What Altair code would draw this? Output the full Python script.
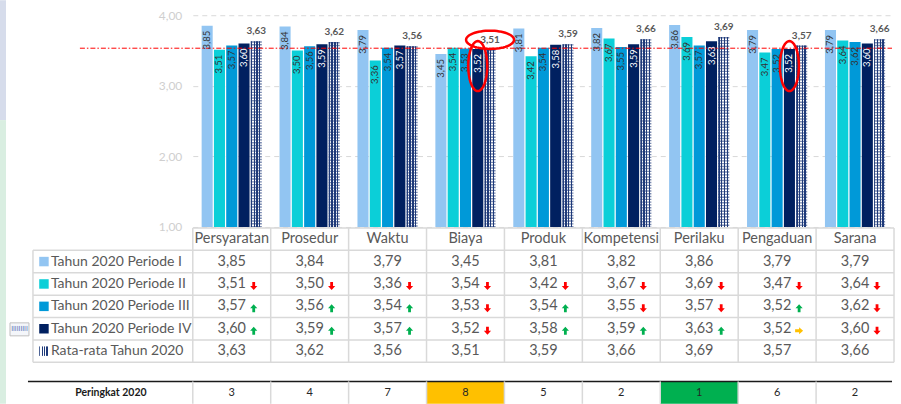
import math
import altair as alt
import pandas as pd

# ---------------- data ----------------
categories = ["Persyaratan", "Prosedur", "Waktu", "Biaya", "Produk",
              "Kompetensi", "Perilaku", "Pengaduan", "Sarana"]
series_names = ["Tahun 2020 Periode I", "Tahun 2020 Periode II",
                "Tahun 2020 Periode III", "Tahun 2020 Periode IV",
                "Rata-rata Tahun 2020"]
periode_1 = [3.85, 3.84, 3.79, 3.45, 3.81, 3.82, 3.86, 3.79, 3.79]
periode_2 = [3.51, 3.50, 3.36, 3.54, 3.42, 3.67, 3.69, 3.47, 3.64]
periode_3 = [3.57, 3.56, 3.54, 3.53, 3.54, 3.55, 3.57, 3.52, 3.62]
periode_4 = [3.60, 3.59, 3.57, 3.52, 3.58, 3.59, 3.63, 3.52, 3.60]
rata_rata = [3.63, 3.62, 3.56, 3.51, 3.59, 3.66, 3.69, 3.57, 3.66]
# trend arrows shown next to the table values
arah_periode_2 = ["down", "down", "down", "down", "down", "down", "down", "down", "down"]
arah_periode_3 = ["up", "up", "up", "down", "up", "down", "down", "up", "down"]
arah_periode_4 = ["up", "up", "up", "down", "up", "up", "up", "same", "down"]
peringkat = [3, 4, 7, 8, 5, 2, 1, 6, 2]
threshold = [3.5324]
y_ticks = [1, 2, 3, 4]
peringkat_label = "Peringkat 2020"
# highlighted items (red ellipses)
ellipse_h_cat, ellipse_h_series = ["Biaya"], ["Rata-rata Tahun 2020"]
ellipse_v_cat = ["Biaya", "Pengaduan"]
ellipse_v_series = ["Tahun 2020 Periode IV", "Tahun 2020 Periode IV"]

# ---------------- styles ----------------
FONT = "Lato"
series_colors = ["#92C5F2", "#0BCFD8", "#0099D8", "#002060"]
label_colors = ["#333333", "#333333", "#333333", "#FFFFFF"]
NAVY = "#1F3B7A"
GRID = "#D9D9D9"


def fmt(v):
    return f"{v:.2f}".replace(".", ",")


all_series = [periode_1, periode_2, periode_3, periode_4, rata_rata]
rows = []
for si, (name, vals) in enumerate(zip(series_names, all_series)):
    for ci, cat in enumerate(categories):
        rows.append(dict(cat=cat, series=name, value=vals[ci], base=1.0,
                         y=si + 1.5, label=fmt(vals[ci]), sidx=si))
df = pd.DataFrame(rows)
df_periods = df[df.sidx < 4]
df_avg = df[df.sidx == 4]

arrows = []
for si, dirs in zip([1, 2, 3], [arah_periode_2, arah_periode_3, arah_periode_4]):
    for ci, cat in enumerate(categories):
        arrows.append(dict(cat=cat, y=si + 1.5, dir=dirs[ci]))
df_arrows = pd.DataFrame(arrows)

df_rank = pd.DataFrame(dict(cat=categories, rank=peringkat,
                            y=[7.35] * 9, y0=[6.85] * 9, y1=[7.85] * 9,
                            t0=[0.0] * 9, t1=[6.0] * 9))

# ---------------- helpers ----------------
def ellipse_path(rx, ry, n=64):
    pts = [(rx * math.cos(2 * math.pi * k / n), ry * math.sin(2 * math.pi * k / n)) for k in range(n)]
    return "M " + " L ".join(f"{x:.3f} {y:.3f}" for x, y in pts) + " Z"


stripe_stops = []
n_str = 8
for k in range(n_str):
    c = NAVY if k % 2 == 0 else "#FFFFFF"
    stripe_stops.append(alt.GradientStop(offset=k / n_str, color=c))
    stripe_stops.append(alt.GradientStop(offset=(k + 1) / n_str, color=c))
pattern = alt.Gradient(gradient="linear", x1=0, x2=1, y1=0, y2=0, stops=stripe_stops)

X_SCALE = alt.Scale(domain=categories, paddingInner=0, paddingOuter=0)
XO_SCALE = alt.Scale(domain=series_names, paddingInner=0.1, paddingOuter=0.72)
X = alt.X("cat:N", sort=categories, scale=X_SCALE, axis=None)
XO = alt.XOffset("series:N", sort=series_names, scale=XO_SCALE)
Y = alt.Y("value:Q", scale=alt.Scale(domain=[1, 4], zero=False, nice=False),
          axis=alt.Axis(values=y_ticks, title=None, ticks=False, domain=False,
                        labelExpr="replace(format(datum.value,'.2f'),'.',',')",
                        labelColor="#CFCFCF", labelFontSize=12, labelFont=FONT,
                        labelPadding=11, grid=True, gridColor=GRID, gridDash=[5, 4]))
one = pd.DataFrame({"v": [0]})

# ---------------- bar chart ----------------
bars = alt.Chart(df_periods).mark_bar().encode(
    x=X, xOffset=XO, y=Y, y2="base:Q",
    color=alt.Color("series:N", scale=alt.Scale(domain=series_names[:4], range=series_colors), legend=None))
avg_bars = alt.Chart(df_avg).mark_bar(color=pattern).encode(x=X, xOffset=XO, y="value:Q", y2="base:Q")
avg_over = alt.Chart(df_avg).mark_rule(color=NAVY, opacity=0.6, strokeWidth=11, strokeDash=[1.4, 1.4],
                                       strokeCap="butt").encode(x=X, xOffset=XO, y="value:Q", y2="base:Q")
bar_labels = alt.Chart(df_periods).mark_text(angle=270, align="right", baseline="middle", dx=-5,
                                             font=FONT, fontSize=9.5).encode(
    x=X, xOffset=XO, y="value:Q", text="label:N",
    fill=alt.Fill("series:N", scale=alt.Scale(domain=series_names[:4], range=label_colors), legend=None))
avg_labels = alt.Chart(df_avg).mark_text(baseline="bottom", dy=-5, font=FONT, fontSize=10,
                                         fontWeight="bold", color="#595959").encode(
    x=X, xOffset=XO, y="value:Q", text="label:N")
ref_line = alt.Chart(pd.DataFrame({"value": threshold})).mark_rule(
    color="#FF0000", strokeWidth=1, strokeDash=[5, 2, 1.5, 2]).encode(
    y="value:Q", x=alt.value(-113), x2=alt.value(700))

df_eh = pd.DataFrame(dict(cat=ellipse_h_cat, series=ellipse_h_series,
                          value=[rata_rata[categories.index(c)] for c in ellipse_h_cat]))
df_ev = pd.DataFrame(dict(cat=ellipse_v_cat, series=ellipse_v_series,
                          value=[periode_4[categories.index(c)] for c in ellipse_v_cat]))
ell_h = alt.Chart(df_eh).mark_point(shape=ellipse_path(1, 0.38), size=2304, filled=False, color="#FF0000",
                                    strokeWidth=2.5, opacity=1, yOffset=-10).encode(x=X, xOffset=XO, y="value:Q")
ell_v = alt.Chart(df_ev).mark_point(shape=ellipse_path(0.38, 1), size=2500, filled=False, color="#FF0000",
                                    strokeWidth=2.5, opacity=1, yOffset=17).encode(x=X, xOffset=XO, y="value:Q")

strip_top = alt.Chart(one).mark_rect(color="#D6DCEB").encode(
    x=alt.value(-193), x2=alt.value(-187), y=alt.value(-15), y2=alt.value(105))
strip_mid = alt.Chart(one).mark_rect(color="#D9EEE1").encode(
    x=alt.value(-193), x2=alt.value(-187), y=alt.value(105), y2=alt.value(213))

top = alt.layer(strip_top, strip_mid, bars, avg_bars, avg_over, ref_line, bar_labels, avg_labels,
                ell_h, ell_v).properties(width=702, height=212)

# ---------------- table ----------------
TSCALE = alt.Scale(domain=[0, 7.85], reverse=True, nice=False, zero=False)
TY = alt.Y("y:Q", scale=TSCALE, axis=None)
XC = alt.X("cat:N", sort=categories, scale=X_SCALE, axis=None)
XB = alt.X("cat:N", sort=categories, scale=X_SCALE, axis=None, bandPosition=0)

hl = pd.DataFrame({"y": [1, 2, 3, 4, 5, 6]})
h_rules = alt.Chart(hl).mark_rule(color=GRID, strokeWidth=1.5).encode(
    y=TY, x=alt.value(-160), x2=alt.value(702))
h_top = alt.Chart(pd.DataFrame({"y": [0]})).mark_rule(color=GRID, strokeWidth=1.5).encode(
    y=TY, x=alt.value(0), x2=alt.value(702))
v_rules = alt.Chart(df_rank).mark_rule(color=GRID, strokeWidth=1.5).encode(
    x=XB, y=alt.Y("t0:Q", scale=TSCALE, axis=None), y2="t1:Q")
v_right = alt.Chart(pd.DataFrame({"y": [0.0], "y2": [6.0]})).mark_rule(color=GRID, strokeWidth=1.5).encode(
    x=alt.value(702), y=TY, y2="y2:Q")
v_left = alt.Chart(pd.DataFrame({"y": [1.0], "y2": [6.0]})).mark_rule(color=GRID, strokeWidth=1.5).encode(
    x=alt.value(-160), y=TY, y2="y2:Q")

rank_best = alt.Chart(df_rank).transform_filter(f"datum.rank == {min(peringkat)}").mark_rect(
    color="#00B050").encode(x=XC, y=alt.Y("y0:Q", scale=TSCALE, axis=None), y2="y1:Q")
rank_worst = alt.Chart(df_rank).transform_filter(f"datum.rank == {max(peringkat)}").mark_rect(
    color="#FFC000").encode(x=XC, y=alt.Y("y0:Q", axis=None), y2="y1:Q")
rank_line = alt.Chart(pd.DataFrame({"y": [6.85]})).mark_rule(color="#1A1A1A", strokeWidth=1.5).encode(
    y=TY, x=alt.value(-165), x2=alt.value(700))
rank_v = alt.Chart(df_rank).mark_rule(color=GRID, strokeWidth=1.5).encode(
    x=XB, y=alt.Y("y0:Q", axis=None), y2="y1:Q")

hdr = pd.DataFrame({"cat": categories, "y": [0.5] * 9})
header_text = alt.Chart(hdr).mark_text(font=FONT, fontSize=14.5, color="#595959").encode(
    x=XC, y=TY, text="cat:N")

ser = pd.DataFrame({"series": series_names, "y": [i + 1.5 for i in range(5)]})
row_labels = alt.Chart(ser).mark_text(font=FONT, fontSize=14, color="#595959", align="left").encode(
    x=alt.value(-142), y=TY, text="series:N")
swatches = alt.Chart(ser.iloc[:4]).mark_square(size=90, opacity=1).encode(
    x=alt.value(-149), y=TY,
    color=alt.Color("series:N", scale=alt.Scale(domain=series_names[:4], range=series_colors), legend=None))
swatch_avg = alt.Chart(ser.iloc[4:]).mark_square(size=90, opacity=1, color=pattern).encode(
    x=alt.value(-149), y=TY)

value_text = alt.Chart(df).mark_text(font=FONT, fontSize=14.5, color="#595959").encode(
    x=XC, y=TY, text="label:N")

ARROW_DOWN = "M -0.35 -1 L 0.35 -1 L 0.35 0 L 0.9 0 L 0 1 L -0.9 0 L -0.35 0 Z"
ARROW_UP = "M -0.35 1 L 0.35 1 L 0.35 0 L 0.9 0 L 0 -1 L -0.9 0 L -0.35 0 Z"
ARROW_RIGHT = "M -1 -0.35 L 0 -0.35 L 0 -0.9 L 1 0 L 0 0.9 L 0 0.35 L -1 0.35 Z"
arrow_layers = []
for d, shp, col in [("down", ARROW_DOWN, "#FF0000"), ("up", ARROW_UP, "#00B050"),
                    ("same", ARROW_RIGHT, "#FFC000")]:
    arrow_layers.append(
        alt.Chart(df_arrows).transform_filter(f"datum.dir == '{d}'").mark_point(
            shape=shp, filled=True, color=col, size=64, opacity=1, strokeWidth=0,
            xOffset=22, yOffset=2).encode(x=XC, y=TY))

rank_title = alt.Chart(pd.DataFrame({"y": [7.35], "t": [peringkat_label]})).mark_text(
    font=FONT, fontSize=10.5, fontWeight="bold", color="#1A1A1A").encode(x=alt.value(-82), y=TY, text="t:N")
rank_text = alt.Chart(df_rank).mark_text(font=FONT, fontSize=11, color="#262626").encode(
    x=XC, y=TY, text="rank:N")

strip_low = alt.Chart(one).mark_rect(color="#D9EEE1").encode(
    x=alt.value(-193), x2=alt.value(-187), y=alt.value(-1), y2=alt.value(176))
icon_box = alt.Chart(one).mark_rect(color="#F4F6FA", stroke="#BFBFBF", strokeWidth=1).encode(
    x=alt.value(-183), x2=alt.value(-164), y=alt.value(95), y2=alt.value(108))
icon_text = alt.Chart(one).mark_text(text="IIIIIIIII", font="DejaVu Sans Condensed", fontSize=7,
                                     color="#4A67B0").encode(x=alt.value(-173.5), y=alt.value(101.5))

table = alt.layer(strip_low, icon_box, icon_text, rank_best, rank_worst, h_rules, h_top, v_rules,
                  v_right, v_left, rank_line, rank_v, header_text, row_labels, swatches, swatch_avg,
                  value_text, *arrow_layers, rank_title, rank_text).properties(width=702, height=176)

chart = alt.vconcat(top, table, spacing=1, bounds="flush").properties(
    padding={"left": 0, "top": 0, "right": 6, "bottom": 0}, background="white"
).configure_view(stroke=None)

chart.save("out.html", embed_options={"renderer": "svg", "actions": False})
